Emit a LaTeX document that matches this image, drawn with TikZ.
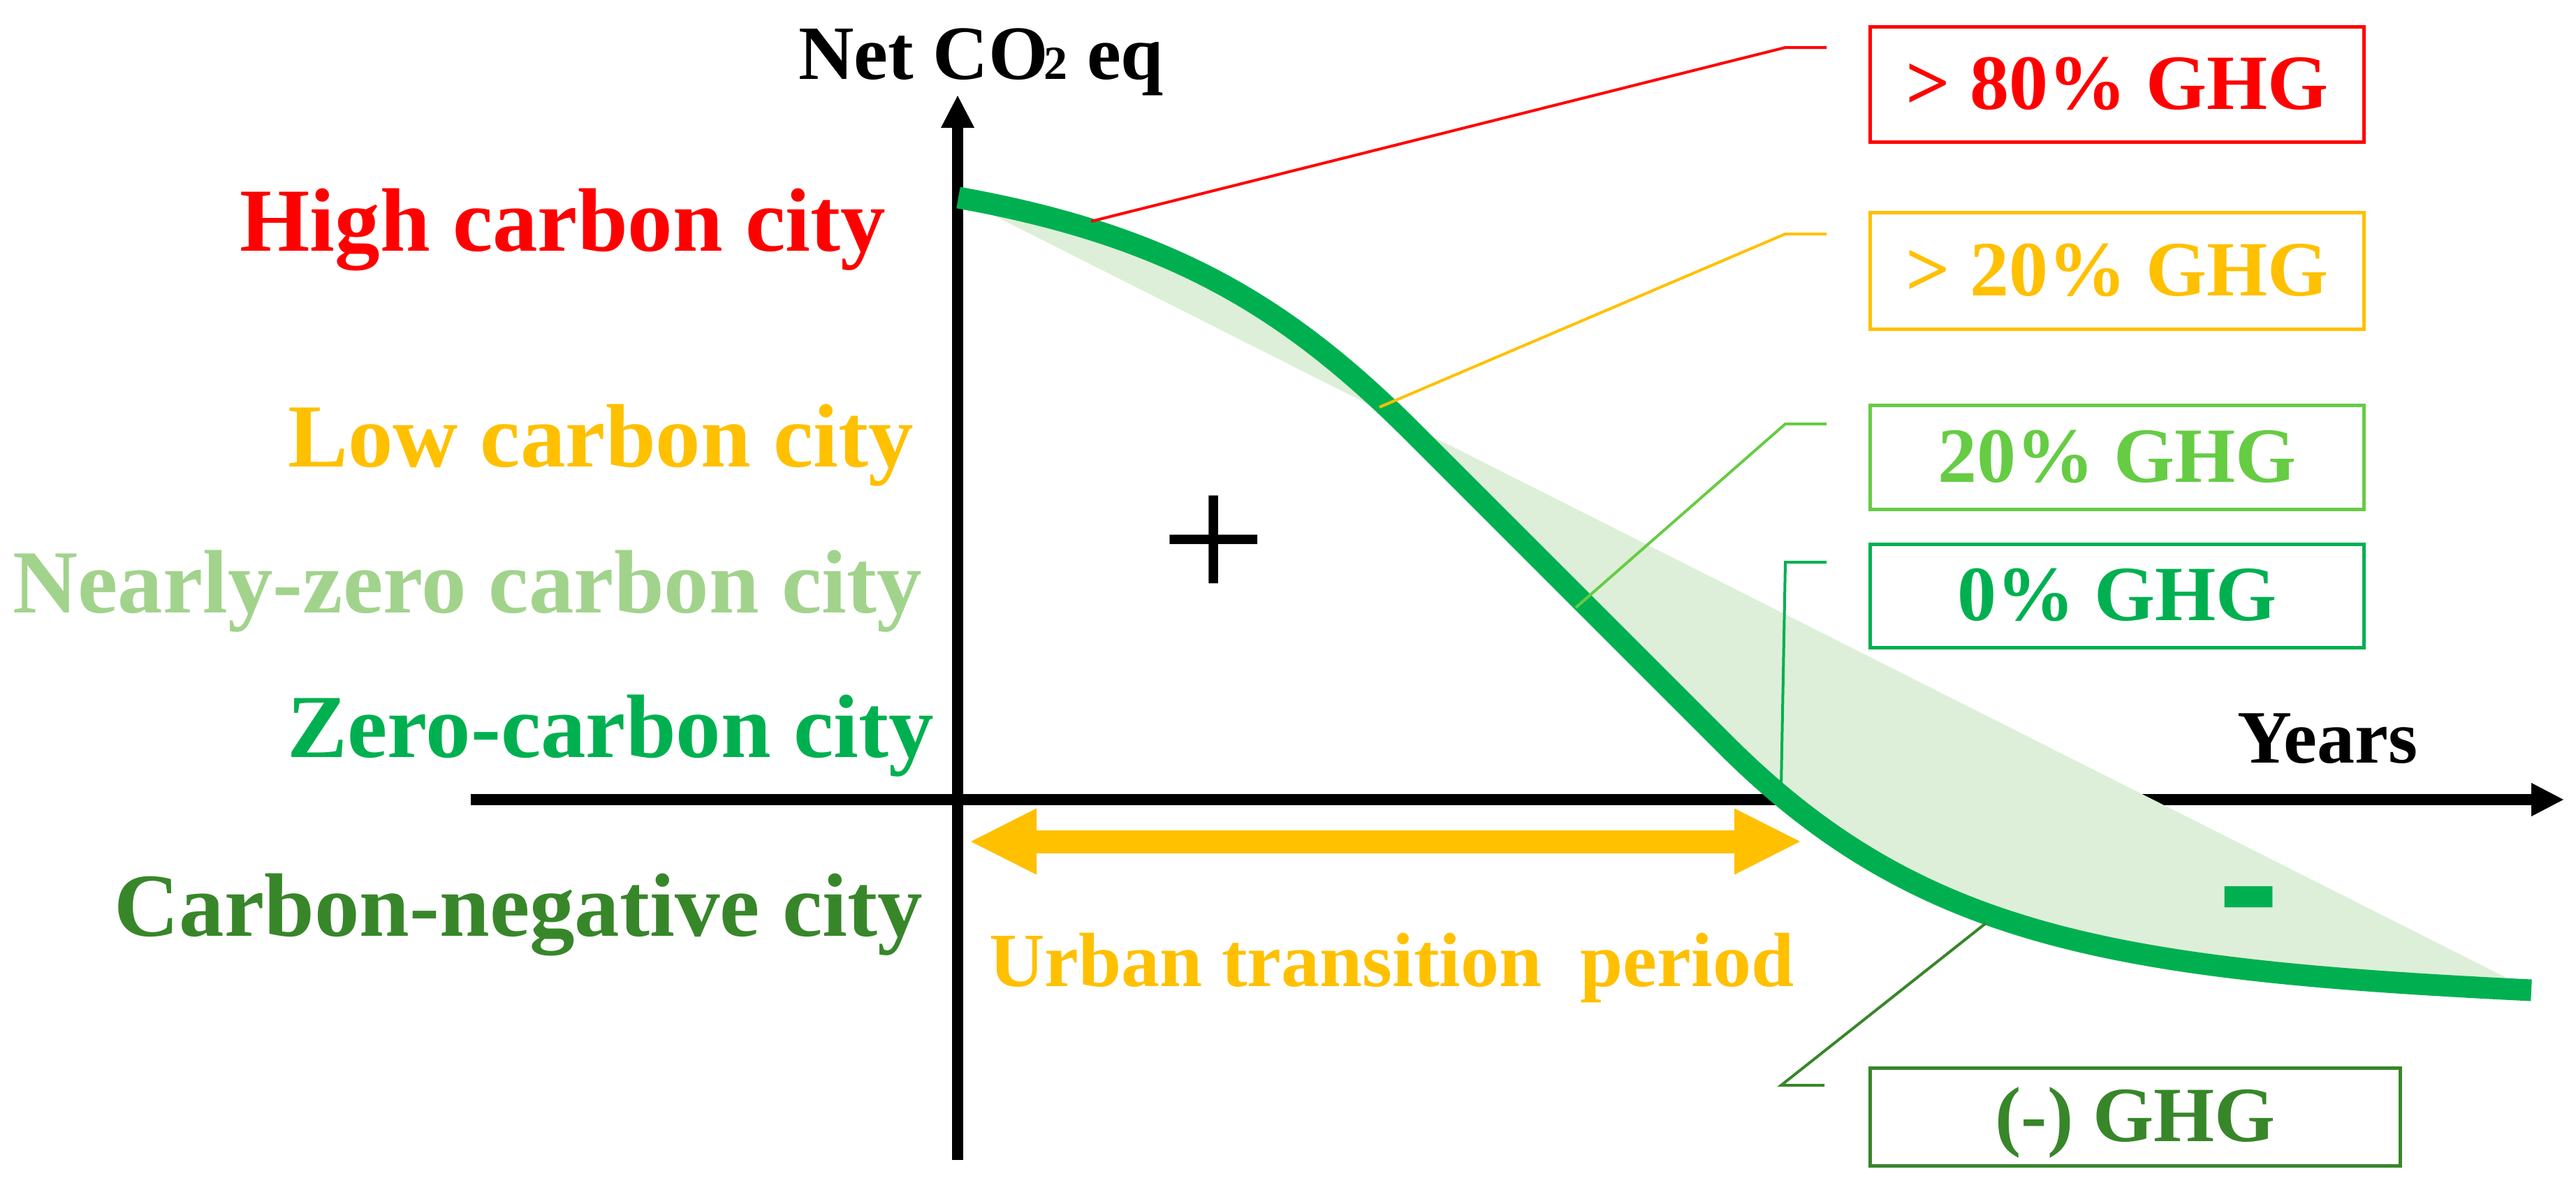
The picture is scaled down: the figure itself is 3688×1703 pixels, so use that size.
\documentclass[tikz,border=0pt]{standalone}
\usepackage{fontspec}
\setmainfont{Liberation Serif}
\usetikzlibrary{arrows.meta,calc}
\definecolor{cred}{HTML}{FF0000}
\definecolor{corange}{HTML}{FFC000}
\definecolor{clight}{HTML}{A2D38C}
\definecolor{czero}{HTML}{00B050}
\definecolor{cneg}{HTML}{38862A}
\definecolor{cmid}{HTML}{66CC44}
\definecolor{cfill}{HTML}{DDEFD8}
\begin{document}
\begin{tikzpicture}[x=1pt,y=-1pt,
  lab/.style={font=\fontsize{129}{130}\selectfont\bfseries, anchor=base east, inner sep=0pt},
  gbox/.style={draw, line width=5pt, minimum width=707pt, inner sep=0pt, anchor=north west,
    font=\fontsize{112}{112}\selectfont\bfseries, text height=70pt, text depth=0pt},
  leader/.style={line width=4pt},
  axis/.style={line width=16pt, -{Triangle[length=46pt,width=48pt,line width=0pt]}},
  ax/.style={font=\fontsize{110}{110}\selectfont\bfseries, inner sep=0pt, anchor=base west}]
\useasboundingbox (0,0) rectangle (3688,1703);
% curve end points
\coordinate (p0) at (1372,283);
\coordinate (p1) at (2024,620);
\coordinate (p2) at (2470,1066);
\coordinate (p3) at (3624,1418);
% axes
\coordinate (xs) at (674,1145);
\coordinate (xe) at (3670,1145);
\coordinate (ys) at (1371,1661);
\coordinate (ye) at (1371,137);
\draw[axis] (xs) -- (xe);
\draw[axis] (ys) -- (ye);
% fill between curve and straight line
\fill[cfill] (p0) .. controls (1680,338) and (1847,443) .. (p1) -- (p2)
  .. controls (2749,1345) and (3033,1389) .. (p3) -- cycle;
% transition arrow
\coordinate (ta) at (1390,1205);
\coordinate (tb) at (2577,1205);
\draw[corange, line width=33pt, {Triangle[length=94pt,width=95pt,line width=0pt]}-{Triangle[length=94pt,width=95pt,line width=0pt]}] (ta) -- (tb);
% curve
\draw[czero, line width=31pt] (p0) .. controls (1680,338) and (1847,443) .. (p1) -- (p2)
  .. controls (2749,1345) and (3033,1389) .. (p3);
% curve contact points
\coordinate (c1) at (1562,317);
\coordinate (c2) at (1975,583);
\coordinate (c3) at (2256,870);
\coordinate (c4) at (2550,1127);
\coordinate (c5) at (2843,1322);
% boxes
\node[gbox, cred, minimum height=165pt] (b1) at (2675,36) {> 80\% GHG};
\node[gbox, corange, minimum height=167pt] (b2) at (2675,302) {> 20\% GHG};
\node[gbox, cmid, minimum height=149pt] (b3) at (2675,578) {20\% GHG};
\node[gbox, czero, minimum height=148pt] (b4) at (2675,777) {0\% GHG};
\node[gbox, cneg, minimum height=140pt, minimum width=759pt] (b5) at (2675,1527) {(-) GHG};
% leaders
\draw[leader, cred] (c1) -- ($(b1.north west)+(-119,32)$) -- ($(b1.north west)+(-60,32)$);
\draw[leader, corange] (c2) -- ($(b2.north west)+(-119,33)$) -- ($(b2.north west)+(-60,33)$);
\draw[leader, cmid] (c3) -- ($(b3.north west)+(-119,29)$) -- ($(b3.north west)+(-60,29)$);
\draw[leader, czero] (c4) -- ($(b4.north west)+(-119,28)$) -- ($(b4.north west)+(-60,28)$);
\draw[leader, cneg] (c5) -- ($(b5.north west)+(-125,27)$) -- ($(b5.north west)+(-63,27)$);
% left labels
\node[lab, cred] (l1) at (1268,359) {High carbon city};
\node[lab, corange] (l2) at (1308,668) {Low carbon city};
\node[lab, clight] (l3) at (1320,877) {Nearly-zero carbon city};
\node[lab, czero] (l4) at (1337,1084) {Zero-carbon city};
\node[lab, cneg] (l5) at (1321,1340) {Carbon-negative city};
% axis labels
\node[ax] (ylab) at (1143,113) {Net CO\kern-6pt{\fontsize{68}{68}\selectfont 2} eq};
\node[ax, font=\fontsize{108}{108}\selectfont\bfseries] (xlab) at (3203,1092) {Years};
\node[ax, corange] (period) at (1416,1412) {Urban transition~ period};
% signs
\node[inner sep=0pt, font=\fontsize{270}{270}\selectfont] (plus) at (1738,786) {+};
\node[inner sep=0pt, anchor=base, czero, font=\fontsize{230}{230}\selectfont\bfseries] (minus) at (3219,1368) {\scalebox{1.15}[1.55]{-}};
\end{tikzpicture}
\end{document}
